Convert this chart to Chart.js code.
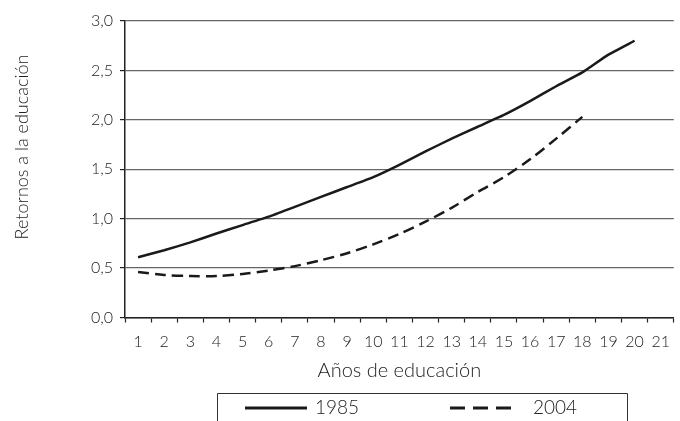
<!DOCTYPE html>
<html>
<head>
<meta charset="utf-8">
<script src="https://cdn.jsdelivr.net/npm/chart.js@4.4.0/dist/chart.umd.min.js"></script>
<style>
html,body{margin:0;padding:0;background:#fff}
#wrap{width:680px;height:421px}
</style>
</head>
<body>
<div id="wrap"><canvas id="retornos" width="680" height="421"></canvas></div>
<script>
// datos
var anios = ["1","2","3","4","5","6","7","8","9","10","11","12","13","14","15","16","17","18","19","20","21"];
var serie1985 = [0.61,0.68,0.76,0.85,0.935,1.02,1.12,1.22,1.32,1.42,1.545,1.68,1.81,1.93,2.05,2.19,2.34,2.48,2.66,2.80,null];
var serie2004 = [0.46,0.43,0.42,0.42,0.44,0.475,0.52,0.58,0.65,0.74,0.845,0.97,1.11,1.27,1.42,1.60,1.81,2.03,null,null,null];
var etiquetas = ["1985","2004"];
var tituloY = "Retornos a la educación";
var tituloX = "Años de educación";

var fuente = "Lato, 'Open Sans', sans-serif";
var tinta = "#222";

// titulo vertical (algo por encima del centro, como en el original)
var tituloVertical = {
	id: 'tituloVertical',
	afterDraw: function(chart){
		var ctx = chart.ctx;
		ctx.save();
		ctx.translate(22, 147);
		ctx.rotate(-Math.PI / 2);
		ctx.font = "300 18px " + fuente;
		ctx.fillStyle = tinta;
		ctx.textAlign = "center";
		ctx.textBaseline = "middle";
		ctx.fillText(tituloY, 0, 0);
		ctx.restore();
	}
};

// leyenda con recuadro, como en el original
var cajaLeyenda = {
	id: 'cajaLeyenda',
	afterDraw: function(chart){
		var ctx = chart.ctx;
		var sets = chart.data.datasets;
		var items = [{x0:245, x1:307, tx:315, dash:[]}, {x0:450, x1:511, tx:533, dash:[15,8]}];
		var y = 408;
		ctx.save();
		ctx.strokeStyle = "#333";
		ctx.lineWidth = 1;
		ctx.beginPath();
		ctx.moveTo(217.5, 421);
		ctx.lineTo(217.5, 393.5);
		ctx.lineTo(627.5, 393.5);
		ctx.lineTo(627.5, 421);
		ctx.stroke();
		ctx.font = "300 19px " + fuente;
		ctx.textBaseline = "middle";
		ctx.fillStyle = tinta;
		for (var i = 0; i < items.length; i++) {
			var it = items[i];
			ctx.strokeStyle = sets[i].borderColor;
			ctx.lineWidth = 3;
			ctx.setLineDash(it.dash);
			ctx.beginPath();
			ctx.moveTo(it.x0, y);
			ctx.lineTo(it.x1, y);
			ctx.stroke();
			ctx.setLineDash([]);
			ctx.fillText(sets[i].label, it.tx, y);
		}
		ctx.restore();
	}
};

var ctxR = document.getElementById("retornos").getContext('2d');
var grafico = new Chart(ctxR, {
	type: 'line',
	data: {
		labels: anios,
		datasets: [{
			label: etiquetas[0],
			data: serie1985,
			borderColor: "#1a1a1a",
			borderWidth: 2.5,
			pointRadius: 0,
			tension: 0.15,
			fill: false
		}, {
			label: etiquetas[1],
			data: serie2004,
			borderColor: "#1a1a1a",
			borderWidth: 2.5,
			borderDash: [11,6],
			pointRadius: 0,
			tension: 0.3,
			fill: false
		}]
	},
	options: {
		responsive: false,
		animation: false,
		devicePixelRatio: 1,
		layout: { padding: { top: 21, right: 0, bottom: 38, left: 0 } },
		plugins: {
			legend: { display: false },
			tooltip: { enabled: false }
		},
		scales: {
			x: {
				type: 'category',
				offset: true,
				grid: { offset: true, drawOnChartArea: false, tickLength: 5, color: tinta, tickWidth: 1.2 },
				border: { color: tinta, width: 1.5 },
				ticks: { font: { family: fuente, size: 16, weight: 300 }, color: tinta, padding: 10, maxRotation: 0, autoSkip: false },
				title: { display: true, text: tituloX, font: { family: fuente, size: 20, weight: 300 }, color: tinta, padding: { top: 0, bottom: 0 } },
				afterFit: function(s){ s.height = 421 - 317.5 - 38; }
			},
			y: {
				min: 0,
				max: 3,
				ticks: {
					stepSize: 0.5,
					font: { family: fuente, size: 16, weight: 300 },
					color: tinta,
					padding: 7,
					callback: function(v){ return v.toFixed(1).replace('.', ','); }
				},
				grid: { color: "#666", lineWidth: 1.2, tickLength: 5, tickColor: tinta },
				border: { color: tinta, width: 1.5 },
				afterFit: function(s){ s.width = 125; }
			}
		}
	},
	plugins: [tituloVertical, cajaLeyenda]
});
</script>
</body>
</html>
